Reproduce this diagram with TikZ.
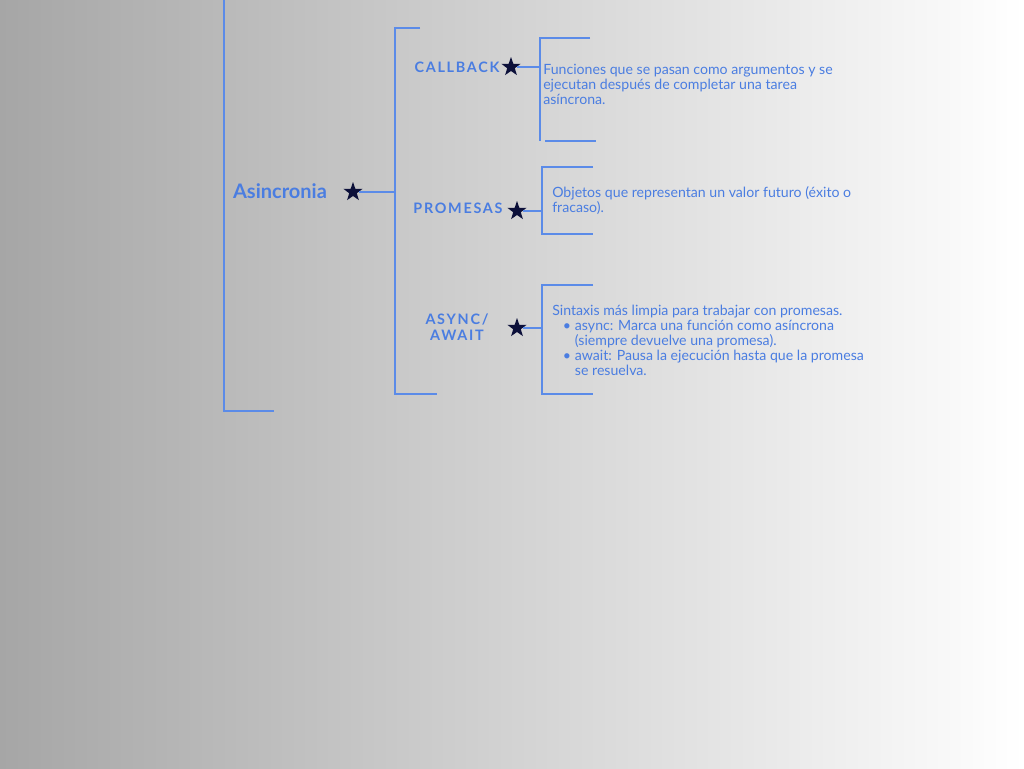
\documentclass[tikz,border=0pt]{standalone}
\usepackage{fontspec}
\setmainfont{Lato}
\usetikzlibrary{shapes.geometric}

\definecolor{bgleft}{RGB}{166,166,166}
\definecolor{txtblue}{RGB}{74,125,225}
\definecolor{lineblue}{RGB}{91,139,232}
\definecolor{starnavy}{RGB}{12,16,58}

\tikzset{
  brack/.style={draw=lineblue, line width=0.8pt},
  link/.style={draw=lineblue, line width=0.8pt},
  starmark/.style={star, star points=5, star point ratio=2.5, fill=starnavy,
    inner sep=0pt, minimum size=15pt},
  topic/.style={text=txtblue, inner sep=0pt, align=center,
    font=\fontsize{10.8}{12}\selectfont\bfseries\addfontfeature{LetterSpace=12}},
  desc/.style={text=txtblue, inner sep=0pt, align=left, anchor=north west,
    font=\fontsize{10.6}{11.25}\selectfont},
}

\begin{document}
\begin{tikzpicture}[x=0.75pt,y=-0.75pt]
    \useasboundingbox (0,0) rectangle (1024,768);
    % Drawing background part
    \shade[left color=bgleft, right color=white] (0,0) rectangle (1024,768);
    % Drawing brackets
    \draw[brack] (224,-5) -- (224,411) -- (274,411);
    \draw[brack] (420,28) -- (395,28) -- (395,394) -- (437,394);
    \draw[brack] (590,38) -- (540,38) -- (540,141);
    \draw[brack] (545,141) -- (596,141);
    \foreach \top/\bot in {167/234, 285/394}{
      \draw[brack] (593,\top) -- (542,\top) -- (542,\bot) -- (593,\bot);
    }
    % Drawing root and topics
    \node[text=txtblue, inner sep=0pt, font=\fontsize{15}{18}\selectfont\bfseries]
      (root) at (280,191) {Asincronia};
    \node[starmark] (s0) at (353,192) {};
    \node[topic] (callback) at (457,67) {CALLBACK};
    \node[topic] (promesas) at (458,208) {PROMESAS};
    \node[topic] (async) at (457,327) {ASYNC/\\AWAIT};
    \node[starmark] (s1) at (511,67) {};
    \node[starmark] (s2) at (517,211) {};
    \node[starmark] (s3) at (517,328) {};
    % Drawing connectors
    \coordinate (j0) at (395,192);
    \coordinate (j1) at (540,67);
    \coordinate (j2) at (542,211);
    \coordinate (j3) at (542,328);
    \foreach \s/\j in {s0/j0, s1/j1, s2/j2, s3/j3}{
      \draw[link] (\s) -- (\j);
    }
    % Drawing descriptions
    \node[desc] (d1) at (543,64) {Funciones que se pasan como argumentos y se\\
      ejecutan después de completar una tarea\\asíncrona.};
    \node[desc] (d2) at (552,186) {Objetos que representan un valor futuro (éxito o\\
      fracaso).};
    \node[desc] (d3) at (552,305) {Sintaxis más limpia para trabajar con promesas.\\
      \hspace*{8pt}\makebox[9pt][l]{\textbullet}async: Marca una función como asíncrona\\
      \hspace*{17pt}(siempre devuelve una promesa).\\
      \hspace*{8pt}\makebox[9pt][l]{\textbullet}await: Pausa la ejecución hasta que la promesa\\
      \hspace*{17pt}se resuelva.};
  \end{tikzpicture}
\end{document}
